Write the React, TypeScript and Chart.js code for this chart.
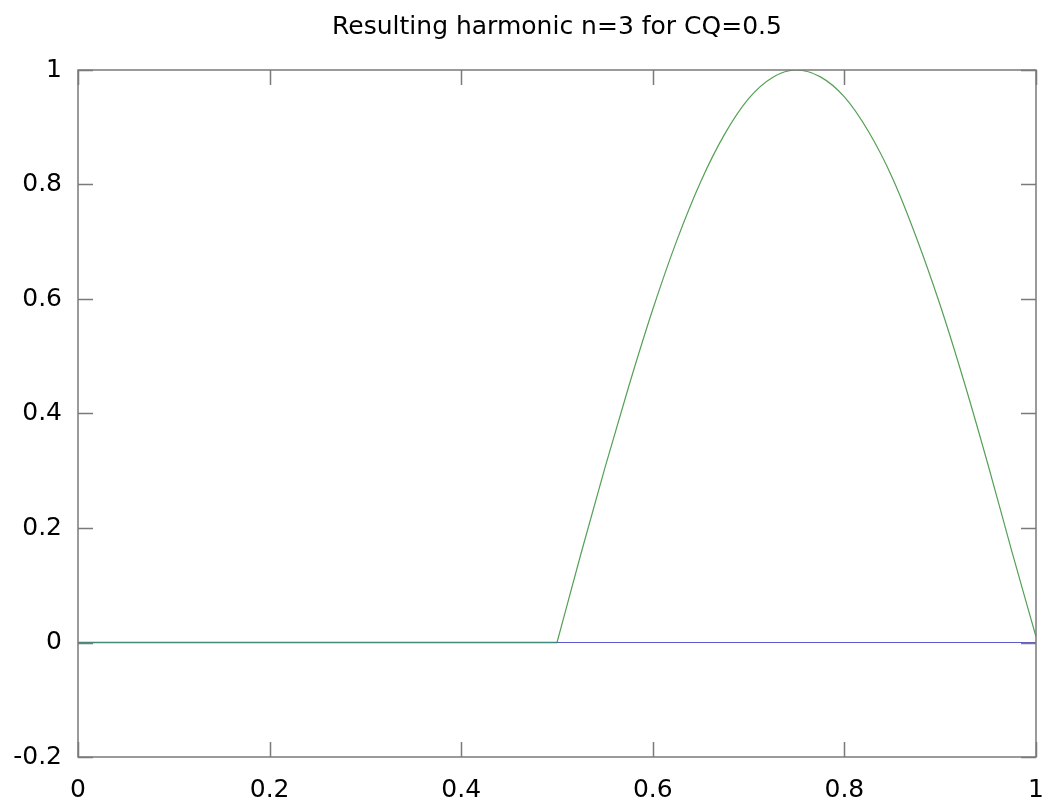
import React, { useEffect, useRef } from "react";
import { Chart, registerables } from "chart.js";

Chart.register(...registerables);

const titleText = "Resulting harmonic n=3 for CQ=0.5";
const xTickValues = [0, 0.2, 0.4, 0.6, 0.8, 1];
const xTickLabels = ["0", "0.2", "0.4", "0.6", "0.8", "1"];
const yTickValues = [-0.2, 0, 0.2, 0.4, 0.6, 0.8, 1];
const yTickLabels = ["-0.2", "0", "0.2", "0.4", "0.6", "0.8", "1"];

// resulting harmonic (green): flat part, then arch
const flatX = [0, 0.5];
const flatY = [0, 0];
const archX = [
  0.5, 0.525, 0.55, 0.575, 0.6, 0.625, 0.65, 0.675, 0.7, 0.725, 0.75,
  0.775, 0.8, 0.825, 0.85, 0.875, 0.9, 0.925, 0.95, 0.975, 1.0,
];
const archY = [
  0, 0.155, 0.305, 0.448, 0.582, 0.702, 0.805, 0.888, 0.95, 0.987, 1.0, 0.988,
  0.953, 0.893, 0.812, 0.708, 0.589, 0.455, 0.31, 0.158, 0.01,
];
// baseline (blue)
const baseX = [0, 1];
const baseY = [0, 0];

const AXIS_COLOR = "#7a7a7a";
const FONT = "DejaVu Sans";

const frameTicks = {
  id: "frameTicks",
  afterDatasetsDraw(chart: any) {
    const { ctx, chartArea: a, scales } = chart;
    const xs = scales.x;
    const ys = scales.y;
    ctx.save();
    ctx.strokeStyle = AXIS_COLOR;
    ctx.lineWidth = 1.5;
    ctx.strokeRect(a.left, a.top, a.right - a.left, a.bottom - a.top);
    const L = 15;
    ctx.beginPath();
    xTickValues.forEach((v) => {
      const px = Math.round(xs.getPixelForValue(v)) + 0.5;
      ctx.moveTo(px, a.bottom);
      ctx.lineTo(px, a.bottom - L);
      ctx.moveTo(px, a.top);
      ctx.lineTo(px, a.top + L);
    });
    yTickValues.forEach((v) => {
      const py = Math.round(ys.getPixelForValue(v)) + 0.5;
      ctx.moveTo(a.left, py);
      ctx.lineTo(a.left + L, py);
      ctx.moveTo(a.right, py);
      ctx.lineTo(a.right - L, py);
    });
    ctx.stroke();
    ctx.restore();
  },
};

export default function App() {
  const ref = useRef<HTMLCanvasElement>(null);
  useEffect(() => {
    document.body.style.margin = "0";
    const canvas = ref.current!;
    const chart = new Chart(canvas, {
      type: "line",
      data: {
        datasets: [
          {
            label: "harmonic-flat",
            data: flatX.map((x, i) => ({ x, y: flatY[i] })),
            borderColor: "#3f8a7a",
            borderWidth: 1.3,
            pointRadius: 0,
            fill: false,
          },
          {
            label: "base",
            data: baseX.map((x, i) => ({ x, y: baseY[i] })),
            borderColor: "#5a5ac8",
            borderWidth: 1.2,
            pointRadius: 0,
            fill: false,
          },
          {
            label: "harmonic",
            data: archX.map((x, i) => ({ x, y: archY[i] })),
            borderColor: "#55a055",
            borderWidth: 1.2,
            pointRadius: 0,
            fill: false,
            cubicInterpolationMode: "monotone",
          },
        ],
      },
      options: {
        responsive: false,
        animation: false,
        layout: { padding: { left: 0, right: 14, top: 0, bottom: 0 } },
        plugins: {
          legend: { display: false },
          tooltip: { enabled: false },
          title: {
            display: true,
            fullSize: false,
            text: titleText,
            color: "#000",
            font: { family: FONT, size: 25, weight: "normal", lineHeight: 1.2 },
            padding: { top: 12, bottom: 28 },
          },
        },
        scales: {
          x: {
            type: "linear",
            min: 0,
            max: 1,
            afterBuildTicks: (s: any) => {
              s.ticks = xTickValues.map((v) => ({ value: v }));
            },
            afterFit: (s: any) => {
              s.height = 48;
              s.paddingLeft = 0;
              s.paddingRight = 0;
            },
            grid: { display: false, drawTicks: false },
            border: { display: false },
            ticks: {
              padding: 18,
              color: "#000",
              font: { family: FONT, size: 25 },
              maxRotation: 0,
              callback: (v: any) => xTickLabels[xTickValues.indexOf(Number(v))] ?? "",
            },
          },
          y: {
            type: "linear",
            min: -0.2,
            max: 1,
            afterBuildTicks: (s: any) => {
              s.ticks = yTickValues.map((v) => ({ value: v }));
            },
            afterFit: (s: any) => {
              s.width = 78;
              s.paddingTop = 0;
              s.paddingBottom = 0;
            },
            grid: { display: false, drawTicks: false },
            border: { display: false },
            ticks: {
              padding: 16,
              color: "#000",
              font: { family: FONT, size: 25 },
              callback: (v: any) => {
                const i = yTickValues.findIndex((t) => Math.abs(t - Number(v)) < 1e-9);
                return i >= 0 ? yTickLabels[i] : "";
              },
            },
          },
        },
      },
      plugins: [frameTicks],
    });
    return () => chart.destroy();
  }, []);
  return (
    <div style={{ width: 1050, height: 805, background: "#fff" }}>
      <canvas ref={ref} width={1050} height={805} style={{ display: "block" }} />
    </div>
  );
}
